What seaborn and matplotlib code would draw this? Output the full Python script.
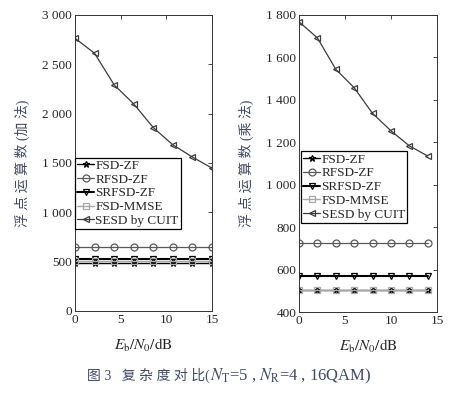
import matplotlib
matplotlib.use("Agg")
import matplotlib.pyplot as plt
import seaborn as sns
import pandas as pd

# SNR points (Eb/N0, dB)
snr_add = [0, 2.14, 4.29, 6.43, 8.57, 10.71, 12.86, 15]
snr_mul = [0, 2, 4, 6, 8, 10, 12, 14]

# additions
fsd_zf_add = [485, 485, 485, 485, 485, 485, 485, 485]
rfsd_zf_add = [650, 650, 650, 650, 650, 650, 650, 650]
srfsd_zf_add = [530, 530, 530, 530, 530, 530, 530, 530]
fsd_mmse_add = [505, 505, 505, 505, 505, 505, 505, 505]
sesd_add = [2764, 2612, 2291, 2099, 1859, 1684, 1560, 1448]

# multiplications
fsd_zf_mul = [505, 505, 505, 505, 505, 505, 505, 505]
rfsd_zf_mul = [725, 725, 725, 725, 725, 725, 725, 725]
srfsd_zf_mul = [572, 572, 572, 572, 572, 572, 572, 572]
fsd_mmse_mul = [505, 505, 505, 505, 505, 505, 505, 505]
sesd_mul = [1768, 1692, 1544, 1457, 1336, 1254, 1183, 1135]

names = ["FSD-ZF", "RFSD-ZF", "SRFSD-ZF", "FSD-MMSE", "SESD by CUIT"]

# style per series: color, marker, line width, marker size
styles = {
    "FSD-ZF": ("#000000", "*", 1.0, 5),
    "RFSD-ZF": ("#5a5a5a", "o", 0.9, 5),
    "SRFSD-ZF": ("#000000", "v", 1.5, 5),
    "FSD-MMSE": ("#a8a8a8", "s", 1.0, 4),
    "SESD by CUIT": ("#3c3c3c", "<", 0.9, 5),
}

sns.set_style("white")
plt.rcParams["font.family"] = ["Liberation Serif", "Noto Sans CJK SC"]
plt.rcParams["mathtext.fontset"] = "stix"

cjk_color = "#3f4a62"

fig = plt.figure(figsize=(4.58, 3.94), dpi=100)
ax1 = fig.add_axes([0.1638, 0.2107, 0.299, 0.7513])
ax2 = fig.add_axes([0.6528, 0.2081, 0.3013, 0.7539])


def draw(ax, x, series):
    for name, y in zip(names, series):
        c, m, lw, ms = styles[name]
        df = pd.DataFrame({"x": x, "y": y})
        sns.lineplot(data=df, x="x", y="y", ax=ax, color=c, marker=m,
                     linewidth=lw, markersize=ms, mec=c, mfc="none",
                     mew=0.9, label=name)


draw(ax1, snr_add, [fsd_zf_add, rfsd_zf_add, srfsd_zf_add, fsd_mmse_add, sesd_add])
draw(ax2, snr_mul, [fsd_zf_mul, rfsd_zf_mul, srfsd_zf_mul, fsd_mmse_mul, sesd_mul])

ax1.set_xlim(0, 15)
ax1.set_ylim(0, 3000)
ax1.set_yticks([0, 500, 1000, 1500, 2000, 2500, 3000])
ax1.set_yticklabels(["0", "500", "1 000", "1 500", "2 000", "2 500", "3 000"])
ax1.set_ylabel("浮 点 运 算 数 (加 法)", fontsize=10, color=cjk_color, labelpad=9)

ax2.set_xlim(0, 15)
ax2.set_ylim(400, 1800)
ax2.set_yticks([400, 600, 800, 1000, 1200, 1400, 1600, 1800])
ax2.set_yticklabels(["400", "600", "800", "1 000", "1 200", "1 400", "1 600", "1 800"])
ax2.set_ylabel("浮 点 运 算 数 (乘 法)", fontsize=10, color=cjk_color, labelpad=9)

for ax, anchor in [(ax1, (0.0, 0.277)), (ax2, (0.015, 0.30))]:
    ax.set_xticks([0, 5, 10, 15])
    ax.set_xlabel(r"$E_\mathrm{b}/N_0/\mathrm{dB}$", fontsize=11, labelpad=8)
    ax.tick_params(direction="in", top=True, right=True, length=3,
                   labelsize=9.5, pad=2, width=0.6)
    for s in ax.spines.values():
        s.set_linewidth(0.7)
        s.set_color("#333333")
    leg = ax.legend(loc="lower left", bbox_to_anchor=anchor, fontsize=9.5,
                    frameon=True, fancybox=False, edgecolor="black",
                    handlelength=1.3, handletextpad=0.1, labelspacing=0.12,
                    borderpad=0.15, borderaxespad=0.0)
    leg.get_frame().set_linewidth(0.9)
    leg.get_frame().set_alpha(1)

# caption: CJK part as plain text, subscripts as mathtext, placed on one baseline
cap_y = 0.035
t1 = fig.text(0.0, cap_y, "图 3   复 杂 度 对 比(", ha="left", va="baseline",
              fontsize=10, color=cjk_color)
t2 = fig.text(0.0, cap_y, r"$N_\mathrm{T}$=5 , $N_\mathrm{R}$=4 , 16QAM)",
              ha="left", va="baseline", fontsize=12, color=cjk_color)
fig.canvas.draw()
r = fig.canvas.get_renderer()
w1 = t1.get_window_extent(r).width
w2 = t2.get_window_extent(r).width
W = fig.get_figwidth() * fig.dpi
x0 = (W - w1 - w2) / 2 / W
t1.set_x(x0)
t2.set_x(x0 + w1 / W)

fig.savefig("out.png", dpi=100)
